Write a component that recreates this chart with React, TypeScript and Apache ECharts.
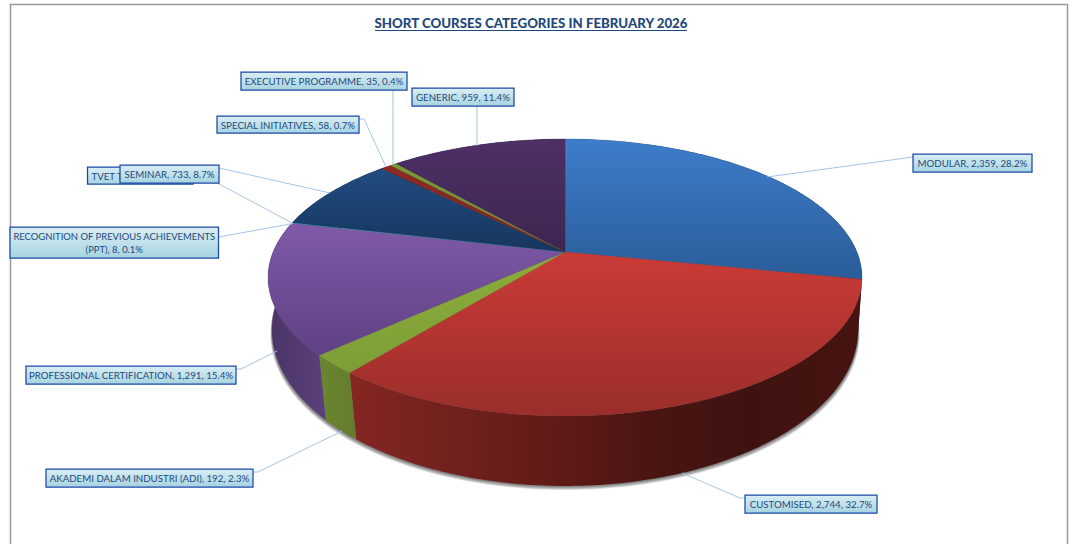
import React, { useEffect, useRef } from "react";
import * as echarts from "echarts";

const names = [
  "MODULAR",
  "CUSTOMISED",
  "AKADEMI DALAM INDUSTRI (ADI)",
  "PROFESSIONAL CERTIFICATION",
  "RECOGNITION OF PREVIOUS ACHIEVEMENTS (PPT)",
  "TVET T",
  "SEMINAR",
  "SPECIAL INITIATIVES",
  "EXECUTIVE PROGRAMME",
  "GENERIC",
];
const values = [2359, 2744, 192, 1291, 8, 0, 733, 58, 35, 959];
const percents = ["28.2%", "32.7%", "2.3%", "15.4%", "0.1%", "", "8.7%", "0.7%", "0.4%", "11.4%"];

const topColors = [
  ["#3d7dca", "#2a5c98"],
  ["#cb3b36", "#9a2e2a"],
  ["#8cad3c", "#7d9e36"],
  ["#7f5aa8", "#5f4184"],
  ["#3c9ab4", "#3c9ab4"],
  ["#e8852f", "#e8852f"],
  ["#204c80", "#17365d"],
  ["#8f2a24", "#7c2420"],
  ["#7a9a38", "#6b8a30"],
  ["#4d3066", "#3d2650"],
];
const wallColors = [
  ["#1e3f68", "#1e3f68"],
  ["#852622", "#7a2420", "#621b18", "#4a1512", "#3f1210", "#471410"],
  ["#6b8630", "#637c2b"],
  ["#4a3466", "#5a417c"],
  ["#2a6e80", "#2a6e80"],
  ["#a85e20", "#a85e20"],
  ["#12294a", "#12294a"],
  ["#551815", "#551815"],
  ["#4a5f20", "#4a5f20"],
  ["#2c1c3c", "#2c1c3c"],
];
const redStops = [0, 0.1, 0.39, 0.59, 0.78, 1];

// box: x0, y0, x1, y1; leader: polyline from box to the pie rim
const labelBoxes = [
  { box: [913, 154, 1032, 172], leader: [[913, 157], [767, 177]] },
  { box: [745, 495, 877, 513], leader: [[745, 498], [740, 498], [682, 473]] },
  { box: [46, 469, 253, 487], leader: [[253, 472], [258, 472], [342, 431]] },
  { box: [26, 366, 236, 384], leader: [[236, 369], [241, 369], [277, 351]] },
  { box: [10, 227, 218.5, 258], leader: [[218.5, 237], [293, 223.5]] },
  { box: [87.5, 167, 193, 184], leader: [[193, 170], [293, 223.5]] },
  { box: [120, 165, 219, 183], leader: [[219, 168], [330, 193]] },
  { box: [217, 116, 359, 133], leader: [[359, 119], [364, 119], [386, 167]] },
  { box: [241, 72, 407, 90], leader: [[393, 90], [393, 164]] },
  { box: [412, 88, 514, 106], leader: [[477, 106], [477, 146]] },
];

const TOTAL = values.reduce((a, b) => a + b, 0);
const CX = 565;
const CY = 252;
const K = 0.184;
const A = 133.8;
const B = 291.9;
const BK = 0.16;
const BA = 152;
const BB = 289.3;
const BY = 305;
const FONT = "Lato";
const TEXT = "#1f497d";
const SHADOW_STEPS = [5, 4, 3, 2, 1];

function project(frac: number, bottom: boolean): number[] {
  const t = frac * Math.PI * 2;
  const u = Math.sin(t);
  const v = Math.cos(t);
  if (bottom) {
    const w = 1 + BK * v;
    return [CX + (BB * u) / w, BY - (BA * v) / w];
  }
  const w = 1 + K * v;
  return [CX + (B * u) / w, CY - (A * v) / w];
}

function arc(f0: number, f1: number, bottom: boolean): number[][] {
  const n = Math.max(2, Math.ceil((f1 - f0) * 360));
  const pts: number[][] = [];
  for (let i = 0; i <= n; i++) pts.push(project(f0 + ((f1 - f0) * i) / n, bottom));
  return pts;
}

function fractions(i: number): [number, number] {
  let s = 0;
  for (let j = 0; j < i; j++) s += values[j];
  return [s / TOTAL, (s + values[i]) / TOTAL];
}

function labelText(i: number): string {
  if (names[i] === "TVET T") return names[i];
  const v = values[i].toLocaleString("en-US");
  if (i === 4) return "RECOGNITION OF PREVIOUS ACHIEVEMENTS\n(PPT), " + v + ", " + percents[i];
  return names[i] + ", " + v + ", " + percents[i];
}

function grad(c: string[], horizontal: boolean, stops?: number[]) {
  return new echarts.graphic.LinearGradient(
    0,
    0,
    horizontal ? 1 : 0,
    horizontal ? 0 : 1,
    c.map((color, i) => ({ offset: stops ? stops[i] : i / (c.length - 1), color }))
  );
}

export default function App() {
  const ref = useRef<HTMLDivElement>(null);
  useEffect(() => {
    const chart = echarts.init(ref.current!, undefined, { renderer: "svg" });
    const indices = values.map((_, i) => i).filter((i) => values[i] > 0);

    const graphics: any[] = [
      {
        type: "rect",
        shape: { x: 10.5, y: 4.5, width: 1057, height: 620 },
        style: { fill: "none", stroke: "#9a9a9a", lineWidth: 1.5 },
        z: 1,
      },
      {
        type: "line",
        shape: { x1: 375, y1: 30.5, x2: 687, y2: 30.5 },
        style: { stroke: TEXT, lineWidth: 1 },
        z: 1,
      },
    ];
    labelBoxes.forEach((l) => {
      graphics.push({
        type: "polyline",
        shape: { points: l.leader },
        style: { fill: "none", stroke: "#a4c4e8", lineWidth: 1 },
        z: 5,
      });
    });
    labelBoxes.forEach((l, i) => {
      const [x0, y0, x1, y1] = l.box;
      const isTvet = names[i] === "TVET T";
      graphics.push({
        type: "rect",
        shape: { x: x0, y: y0, width: x1 - x0, height: y1 - y0 },
        style: {
          fill: grad(["#dbeef5", "#a6d4e1"], false),
          stroke: "#1c48a5",
          lineWidth: 1.25,
        },
        z: 6 + i,
      });
      graphics.push({
        type: "text",
        style: {
          x: isTvet ? x0 + 4 : (x0 + x1) / 2,
          y: (y0 + y1) / 2,
          text: labelText(i),
          fill: TEXT,
          font: (i === 4 ? "9.45px " : "9.7px ") + FONT,
          lineHeight: 13,
          align: isTvet ? "left" : "center",
          verticalAlign: "middle",
        },
        z: 6 + i,
      });
    });

    chart.setOption({
      animation: false,
      backgroundColor: "#ffffff",
      title: {
        text: "SHORT COURSES CATEGORIES IN FEBRUARY 2026",
        left: 526,
        top: 11,
        textAlign: "center",
        textStyle: { fontFamily: FONT, fontSize: 13.25, fontWeight: 900, color: TEXT },
      },
      graphic: { elements: graphics },
      series: [
        {
          type: "custom",
          coordinateSystem: "none",
          z: 2,
          silent: true,
          data: [0],
          renderItem: () => ({
            type: "group",
            children: SHADOW_STEPS.map((d) => ({
              type: "polygon",
              shape: { points: arc(0, 1, true).map(([x, y]) => [x + (x > CX ? d * 0.3 : -d * 0.3), y + d * 0.8]) },
              style: { fill: "rgba(0,0,0,0.13)", stroke: "none" },
            })),
          }),
        },
        {
          type: "custom",
          name: "walls",
          coordinateSystem: "none",
          z: 3,
          silent: true,
          data: indices,
          renderItem: (params: any, api: any) => {
            const i = api.value(0);
            const [f0, f1] = fractions(i);
            const pts = arc(f0, f1, false).concat(arc(f0, f1, true).reverse());
            return {
              type: "polygon",
              shape: { points: pts },
              style: {
                fill: grad(wallColors[i], true, i === 1 ? redStops : undefined),
                stroke: "none",
              },
            };
          },
        },
        {
          type: "custom",
          name: "tops",
          coordinateSystem: "none",
          z: 4,
          silent: true,
          data: indices,
          renderItem: (params: any, api: any) => {
            const i = api.value(0);
            const [f0, f1] = fractions(i);
            const pts = [[CX, CY]].concat(arc(f0, f1, false));
            return {
              type: "polygon",
              shape: { points: pts },
              style: { fill: grad(topColors[i], false), stroke: topColors[i][1], lineWidth: 0.3 },
            };
          },
        },
      ],
    });
    return () => chart.dispose();
  }, []);
  return (
    <div
      ref={ref}
      style={{ position: "fixed", left: 0, top: 0, width: 1072, height: 544, background: "#fff" }}
    />
  );
}
